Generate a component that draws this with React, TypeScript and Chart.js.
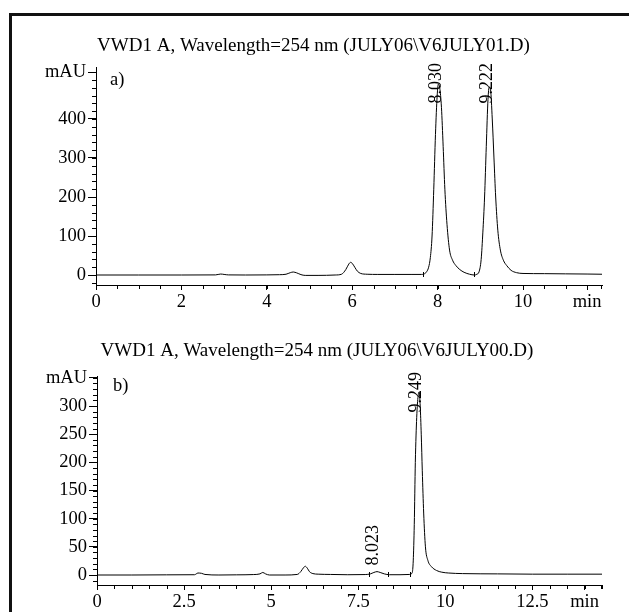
import React, { useEffect, useRef } from "react";
import { Chart, registerables } from "chart.js";

Chart.register(...registerables);

// ---------- Data ----------
const titleA = "VWD1 A, Wavelength=254 nm (JULY06\\V6JULY01.D)";
const titleB = "VWD1 A, Wavelength=254 nm (JULY06\\V6JULY00.D)";

const timesA = [0, 1.0, 2.0, 2.8, 2.92, 3.0, 3.1, 3.5, 4.0, 4.3, 4.45, 4.55, 4.62, 4.7, 4.8, 4.9, 5.2, 5.6, 5.75, 5.85, 5.92, 5.96, 6.0, 6.06, 6.12, 6.2, 6.35, 6.6, 7.0, 7.4, 7.62, 7.68, 7.74, 7.79, 7.83, 7.87, 7.91, 7.95, 7.99, 8.02, 8.05, 8.09, 8.13, 8.17, 8.22, 8.28, 8.35, 8.43, 8.52, 8.62, 8.75, 8.86, 8.92, 8.97, 9.02, 9.06, 9.10, 9.14, 9.18, 9.21, 9.24, 9.28, 9.32, 9.36, 9.41, 9.47, 9.54, 9.62, 9.72, 9.85, 10.0, 10.5, 11.0, 11.5, 11.85];
const signalA = [0, 0, 0, 0.3, 2.5, 1.5, 0.3, 0, 0.3, 0.8, 2, 6, 7.7, 5.5, 1, -1, -1, 0, 2, 14, 28, 32.5, 30, 20, 10, 4, 2, 1.5, 1.5, 1.5, 1.5, 2.5, 8, 20, 45, 100, 220, 360, 460, 490, 480, 430, 330, 220, 130, 64, 38, 24, 14, 7, 2, 0, 2, 8, 40, 110, 200, 330, 450, 482, 475, 400, 300, 200, 115, 64, 38, 24, 12, 6, 4, 3.5, 3, 2.5, 2];

const timesB = [0, 1.0, 2.0, 2.8, 2.9, 3.0, 3.1, 3.5, 4.0, 4.5, 4.68, 4.76, 4.84, 4.95, 5.4, 5.75, 5.85, 5.93, 5.98, 6.04, 6.1, 6.2, 6.35, 6.7, 7.2, 7.7, 7.85, 7.95, 8.04, 8.13, 8.25, 8.4, 8.7, 8.98, 9.05, 9.08, 9.11, 9.14, 9.18, 9.22, 9.25, 9.28, 9.31, 9.34, 9.38, 9.43, 9.5, 9.6, 9.75, 9.9, 10.1, 10.5, 11.5, 12.5, 13.5, 14.5];
const signalB = [0, 0, 0.3, 0.5, 3.5, 3, 1, 0, 0.3, 0.8, 2, 4.5, 2, 0, 0, 1, 6, 13, 15.5, 12, 6, 2.5, 1.5, 1, 0.5, 0.8, 2, 4.5, 6, 4.5, 2, 0.5, 0.5, 1, 4, 25, 90, 200, 280, 318, 325, 300, 250, 185, 110, 50, 26, 15, 8, 5, 3.5, 2.5, 2, 1.5, 1.5, 1.5];

const xTicksA = [0, 2, 4, 6, 8, 10];
const xTicksB = [0, 2.5, 5, 7.5, 10, 12.5];
const yTicksA = [0, 100, 200, 300, 400];
const yTicksB = [0, 50, 100, 150, 200, 250, 300];

const peakTimesA = [8.03, 9.222];
const peakApexA = [490, 482];
const peakLabelsA = ["8.030", "9.222"];
const peakTimesB = [8.023, 9.249];
const peakApexB = [6, 325];
const peakLabelsB = ["8.023", "9.249"];

const markersA = [7.66, 8.86];
const markersB = [7.8, 8.36, 8.98];

// ---------- Styling ----------
const SERIF = "'Liberation Serif', 'Times New Roman', serif";
const W = 629;

type Spec = {
  title: string; titleX: number; titleY: number;
  panel: string; panelX: number; panelY: number;
  times: number[]; signal: number[];
  xTicks: number[]; yTicks: number[];
  xUnitAt: number; yUnitAt: number;
  xMax: number; yMin: number; yMax: number;
  xMinor: number; yMinor: number;
  peakTimes: number[]; peakApex: number[]; peakLabels: string[];
  markers: number[];
  areaLeft: number; areaRight: number; areaTop: number; areaBottom: number;
  canvasH: number;
};

function decorPlugin(s: Spec) {
  return {
    id: "decor",
    afterDraw(chart: any) {
      const ctx = chart.ctx as CanvasRenderingContext2D;
      const xs = chart.scales.x;
      const ys = chart.scales.y;
      const { left, top, bottom } = chart.chartArea;
      ctx.save();
      ctx.strokeStyle = "#000";
      ctx.lineWidth = 1;
      // minor x ticks
      ctx.beginPath();
      const nx = Math.floor(s.xMax / s.xMinor + 1e-9);
      for (let i = 0; i <= nx; i++) {
        const px = Math.round(xs.getPixelForValue(i * s.xMinor)) + 0.5;
        ctx.moveTo(px, bottom);
        ctx.lineTo(px, bottom + 4);
      }
      const pe = Math.round(xs.getPixelForValue(s.xMax)) - 0.5;
      ctx.moveTo(pe, bottom);
      ctx.lineTo(pe, bottom + 4);
      // minor y ticks
      const y0 = Math.ceil(s.yMin / s.yMinor);
      const y1 = Math.floor(s.yMax / s.yMinor);
      for (let j = y0; j <= y1; j++) {
        const py = Math.round(ys.getPixelForValue(j * s.yMinor)) + 0.5;
        ctx.moveTo(left - 4, py);
        ctx.lineTo(left, py);
      }
      // integration markers
      for (const m of s.markers) {
        const px = Math.round(xs.getPixelForValue(m)) + 0.5;
        const py = ys.getPixelForValue(0);
        ctx.moveTo(px, py - 3);
        ctx.lineTo(px, py + 2);
      }
      ctx.stroke();

      ctx.fillStyle = "#000";
      // title
      ctx.font = `19px ${SERIF}`;
      ctx.textAlign = "center";
      ctx.textBaseline = "middle";
      ctx.fillText(s.title, s.titleX, s.titleY);
      // panel label
      ctx.font = `18.5px ${SERIF}`;
      ctx.textAlign = "left";
      ctx.fillText(s.panel, s.panelX, s.panelY);
      // peak labels (rotated)
      ctx.font = `18px ${SERIF}`;
      s.peakTimes.forEach((t, i) => {
        const label = s.peakLabels[i];
        const px = xs.getPixelForValue(t) - 3;
        const apex = ys.getPixelForValue(s.peakApex[i]);
        const w = ctx.measureText(label).width;
        const yStart = Math.max(apex - 6, top - 4 + w);
        ctx.save();
        ctx.translate(px, yStart);
        ctx.rotate(-Math.PI / 2);
        ctx.textAlign = "left";
        ctx.textBaseline = "middle";
        ctx.fillText(label, 0, 0);
        ctx.restore();
      });
      ctx.restore();
    },
  };
}

function makeConfig(s: Spec): any {
  const tickFont = { family: SERIF, size: 18.5 };
  return {
    type: "line",
    data: {
      datasets: [
        {
          data: s.times.map((t, i) => ({ x: t, y: s.signal[i] })),
          borderColor: "#000",
          borderWidth: 1,
          pointRadius: 0,
          fill: false,
          cubicInterpolationMode: "monotone",
        },
      ],
    },
    options: {
      responsive: false,
      animation: false,
      devicePixelRatio: 1,
      events: [],
      layout: { padding: { left: 0, top: s.areaTop, right: W - s.areaRight, bottom: 0 } },
      plugins: { legend: { display: false }, tooltip: { enabled: false }, title: { display: false } },
      scales: {
        x: {
          type: "linear",
          position: "bottom",
          min: 0,
          max: s.xMax,
          afterFit: (sc: any) => { sc.height = s.canvasH - s.areaBottom; },
          afterBuildTicks: (sc: any) => { sc.ticks = [...s.xTicks, s.xUnitAt].map((v) => ({ value: v })); },
          ticks: {
            autoSkip: false,
            maxRotation: 0,
            minRotation: 0,
            color: "#000",
            font: tickFont,
            padding: 1,
            callback: (v: number) => (v === s.xUnitAt ? "min" : String(v)),
          },
          grid: { drawOnChartArea: false, drawTicks: true, tickLength: 5, color: "#000", lineWidth: 1 },
          border: { display: true, color: "#000", width: 1 },
        },
        y: {
          type: "linear",
          position: "left",
          min: s.yMin,
          max: s.yMax,
          afterFit: (sc: any) => { sc.width = s.areaLeft; },
          afterBuildTicks: (sc: any) => { sc.ticks = [...s.yTicks, s.yUnitAt].map((v) => ({ value: v })); },
          ticks: {
            autoSkip: false,
            color: "#000",
            font: tickFont,
            padding: 2,
            callback: (v: number) => (v === s.yUnitAt ? "mAU" : String(v)),
          },
          grid: { drawOnChartArea: false, drawTicks: true, tickLength: 8, color: "#000", lineWidth: 1 },
          border: { display: true, color: "#000", width: 1 },
        },
      },
    },
    plugins: [decorPlugin(s)],
  };
}

const specA: Spec = {
  title: titleA, titleX: 313.5, titleY: 46,
  panel: "a)", panelX: 110, panelY: 80,
  times: timesA, signal: signalA,
  xTicks: xTicksA, yTicks: yTicksA,
  xUnitAt: 11.5, yUnitAt: 520,
  xMax: 11.85, yMin: -25.6, yMax: 533.3,
  xMinor: 0.5, yMinor: 20,
  peakTimes: peakTimesA, peakApex: peakApexA, peakLabels: peakLabelsA,
  markers: markersA,
  areaLeft: 96, areaRight: 602, areaTop: 67, areaBottom: 285,
  canvasH: 330,
};

const specB: Spec = {
  title: titleB, titleX: 317, titleY: 45,
  panel: "b)", panelX: 113, panelY: 80,
  times: timesB, signal: signalB,
  xTicks: xTicksB, yTicks: yTicksB,
  xUnitAt: 14, yUnitAt: 350,
  xMax: 14.5, yMin: -17.75, yMax: 353.3,
  xMinor: 0.5, yMinor: 10,
  peakTimes: peakTimesB, peakApex: peakApexB, peakLabels: peakLabelsB,
  markers: markersB,
  areaLeft: 97, areaRight: 602, areaTop: 70, areaBottom: 279,
  canvasH: 306,
};

export default function App() {
  const refA = useRef<HTMLCanvasElement | null>(null);
  const refB = useRef<HTMLCanvasElement | null>(null);

  useEffect(() => {
    const ca = new Chart(refA.current as HTMLCanvasElement, makeConfig(specA));
    const cb = new Chart(refB.current as HTMLCanvasElement, makeConfig(specB));
    return () => {
      ca.destroy();
      cb.destroy();
    };
  }, []);

  return (
    <div style={{ position: "absolute", left: 0, top: 0, width: W, height: 612, overflow: "hidden", background: "#fff" }}>
      <div
        style={{
          position: "absolute", left: 9, top: 13, width: 700, height: 700,
          borderLeft: "3px solid #111", borderTop: "3px solid #111",
        }}
      />
      <canvas ref={refA} width={W} height={330} style={{ position: "absolute", left: 0, top: 0, width: W, height: 330 }} />
      <canvas ref={refB} width={W} height={306} style={{ position: "absolute", left: 0, top: 306, width: W, height: 306 }} />
    </div>
  );
}
